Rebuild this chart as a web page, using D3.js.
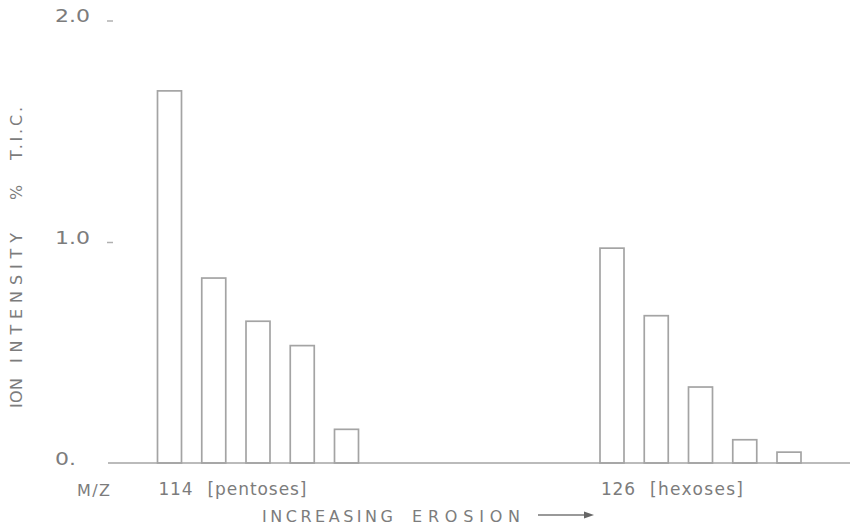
<!DOCTYPE html>
<html>
<head>
<meta charset="utf-8">
<script src="https://cdn.jsdelivr.net/npm/d3@7"></script>
<style>
  body { margin: 0; background: #fff; }
  svg text { font-family: "DejaVu Sans", sans-serif; fill: #7c7c7c; }
</style>
</head>
<body>
<div id="chart"></div>
<script>
// ion intensity per erosion step
const mzLabels = ["114", "126"];
const groupNames = ["[pentoses]", "[hexoses]"];
const pentoses = [1.68, 0.835, 0.64, 0.53, 0.152];
const hexoses = [0.97, 0.665, 0.343, 0.105, 0.049];
const pentoseSlots = [0, 1, 2, 3, 4];
const hexoseSlots = [10, 11, 12, 13, 14];
const yTicks = [0, 1, 2];
const yTickLabels = ["0.", "1.0", "2.0"];

const W = 850, H = 527;
const lineCol = "#a4a4a4";

const svg = d3.select("#chart").append("svg")
  .attr("width", W).attr("height", H);

const x = d3.scaleLinear().domain([0, 14]).range([157.5, 777]);
const y = d3.scaleLinear().domain([0, 2]).range([463, 20]);
const barW = 24;

const bars = pentoses.map((v, i) => ({ slot: pentoseSlots[i], v }))
  .concat(hexoses.map((v, i) => ({ slot: hexoseSlots[i], v })));

svg.selectAll(".bar")
  .data(bars)
  .enter()
  .append("rect")
  .attr("class", "bar")
  .attr("x", d => x(d.slot))
  .attr("y", d => y(d.v))
  .attr("width", barW)
  .attr("height", d => y(0) - y(d.v))
  .attr("fill", "none")
  .attr("stroke", lineCol)
  .attr("stroke-width", 1.7);

// baseline
svg.append("line")
  .attr("x1", 108).attr("x2", W)
  .attr("y1", y(0)).attr("y2", y(0))
  .attr("stroke", lineCol).attr("stroke-width", 1.7);

// y ticks: little dashes + labels
yTicks.forEach((t, i) => {
  if (t > 0) {
    svg.append("line")
      .attr("x1", 107).attr("x2", 113)
      .attr("y1", y(t) + 1).attr("y2", y(t) + 1)
      .attr("stroke", "#b0b0b0").attr("stroke-width", 1.5);
  }
  svg.append("text")
    .attr("x", 55).attr("y", y(t) + 2)
    .attr("font-size", 17)
    .attr("textLength", t > 0 ? 35 : 21)
    .attr("lengthAdjust", "spacingAndGlyphs")
    .text(yTickLabels[i]);
});

// y axis title, rotated, pieces spaced like the lettering
const yTitle = [
  { s: "ION", from: 408, to: 378 },
  { s: "INTENSITY", from: 363, to: 233 },
  { s: "%", from: 200, to: 176 },
  { s: "T.I.C.", from: 160, to: 107 }
];
yTitle.forEach(p => {
  svg.append("text")
    .attr("transform", `translate(22,${p.from}) rotate(-90)`)
    .attr("font-size", 16)
    .attr("textLength", p.from - p.to)
    .attr("lengthAdjust", "spacing")
    .text(p.s);
});

// x labels
svg.append("text").attr("x", 77).attr("y", 496)
  .attr("font-size", 16).attr("textLength", 33).attr("lengthAdjust", "spacing")
  .text("M/Z");

const groupStart = [pentoseSlots[0], hexoseSlots[0]];
mzLabels.forEach((m, i) => {
  const x0 = x(groupStart[i]);
  svg.append("text").attr("x", x0 + 1).attr("y", 495)
    .attr("font-size", 17).attr("textLength", 34).attr("lengthAdjust", "spacing")
    .text(m);
  svg.append("text").attr("x", x0 + 50).attr("y", 495)
    .attr("font-size", 17).attr("textLength", i === 0 ? 99 : 93).attr("lengthAdjust", "spacing")
    .text(groupNames[i]);
});

svg.append("text").attr("x", 262).attr("y", 522)
  .attr("font-size", 16).attr("textLength", 131).attr("lengthAdjust", "spacing")
  .text("INCREASING");
svg.append("text").attr("x", 412).attr("y", 522)
  .attr("font-size", 16).attr("textLength", 108).attr("lengthAdjust", "spacing")
  .text("EROSION");

// arrow
svg.append("line")
  .attr("x1", 538).attr("x2", 586)
  .attr("y1", 515).attr("y2", 515)
  .attr("stroke", "#777").attr("stroke-width", 1.7);
svg.append("path")
  .attr("d", "M584,511.5 L594,515 L584,518.5 Z")
  .attr("fill", "#666");
</script>
</body>
</html>
